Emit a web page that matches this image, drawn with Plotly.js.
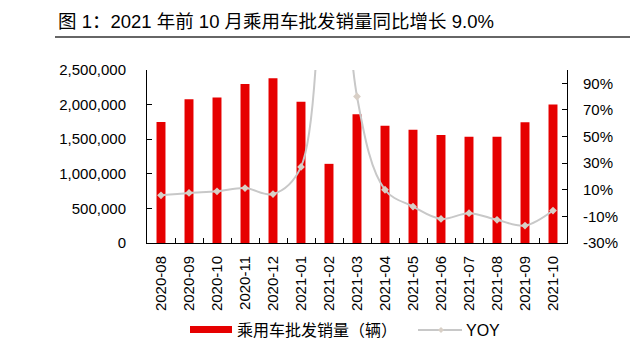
<!DOCTYPE html>
<html>
<head>
<meta charset="utf-8">
<script src="https://cdn.plot.ly/plotly-3.0.1.min.js"></script>
<style>html,body{margin:0;padding:0;background:#fff;}#chart{width:640px;height:360px;}</style>
</head>
<body>
<div id="chart"></div>
<script>
const months = ["2020-08","2020-09","2020-10","2020-11","2020-12","2021-01","2021-02","2021-03","2021-04","2021-05","2021-06","2021-07","2021-08","2021-09","2021-10"];
const sales = [1750000,2078000,2103000,2297000,2379000,2040000,1144000,1860000,1696000,1638000,1560000,1536000,1536000,1744000,2000000];
const yoy = [5.8,7.6,8.8,11.3,6.8,27.2,389,80.1,10.0,-2.6,-11.9,-7.6,-12.6,-16.9,-5.6];
const leftTicks = [0,500000,1000000,1500000,2000000,2500000];
const rightTicks = [-30,-10,10,30,50,70,90];
const rightTickText = rightTicks.map(v => v + "%");
const salesName = "乘用车批发销量（辆）";
const yoyName = "YOY";
const titleText = "图 1：2021 年前 10 月乘用车批发销量同比增长 9.0%";

const font = "Liberation Sans, Arial, Noto Sans CJK SC, sans-serif";
const cjk = "Liberation Sans, Noto Sans CJK SC, sans-serif";

const traces = [
  {type:"bar", x:months, y:sales, name:salesName, marker:{color:"#E60000"}, yaxis:"y", showlegend:false},
  {type:"scatter", mode:"lines+markers", x:months, y:yoy, name:yoyName, yaxis:"y2",
   line:{color:"#C8C8C8", width:2, shape:"spline", smoothing:1},
   marker:{symbol:"diamond", size:6, color:"#D8CFC6"}, showlegend:false, cliponaxis:true}
];

const layout = {
  width:640, height:360,
  margin:{l:147, r:73, t:70, b:117},
  paper_bgcolor:"#fff", plot_bgcolor:"#fff",
  font:{family:font, size:15, color:"#000"},
  bargap:0.68,
  xaxis:{type:"category", showline:true, linecolor:"#000", linewidth:1,
    ticks:"inside", tickson:"boundaries", ticklen:5, tickcolor:"#000",
    tickangle:-90, tickfont:{size:15, family:font, color:"#000"}, ticklabelstandoff:6,
    showgrid:false, zeroline:false, range:[-0.5,14.5]},
  yaxis:{range:[0,2500000], tickvals:leftTicks, tickformat:",d", showline:true, linecolor:"#000",
    ticks:"inside", ticklen:5, tickcolor:"#000", showgrid:false, zeroline:false,
    tickfont:{size:15, family:font, color:"#000"}, ticklabelstandoff:17},
  yaxis2:{overlaying:"y", side:"right", range:[-30,100], tickvals:rightTicks, ticktext:rightTickText,
    showline:true, linecolor:"#000", ticks:"inside", ticklen:5, tickcolor:"#000",
    showgrid:false, zeroline:false, tickfont:{size:15, family:font, color:"#000"}, ticklabelstandoff:12},
  shapes:[
    {type:"line", xref:"paper", yref:"paper", x0:(55-147)/420, x1:(630-147)/420, y0:(360-117-37)/173, y1:(360-117-37)/173, line:{color:"#333", width:1.5}},
    {type:"rect", xref:"paper", yref:"paper", x0:(190-147)/420, x1:(232-147)/420, y0:(360-117-333)/173, y1:(360-117-326)/173, fillcolor:"#E60000", line:{width:0}},
    {type:"line", xref:"paper", yref:"paper", x0:(418-147)/420, x1:(462-147)/420, y0:(360-117-330)/173, y1:(360-117-330)/173, line:{color:"#C8C8C8", width:2}},
    {type:"path", xref:"paper", yref:"paper",
     path:"M "+((441-147)/420)+","+((360-117-327)/173)+" L "+((444-147)/420)+","+((360-117-330)/173)+" L "+((441-147)/420)+","+((360-117-333)/173)+" L "+((438-147)/420)+","+((360-117-330)/173)+" Z",
     fillcolor:"#D8CFC6", line:{width:0}}
  ],
  annotations:[
    {text:titleText, xref:"paper", yref:"paper", x:(56-147)/420, y:(360-117-21)/173, xanchor:"left", yanchor:"middle", showarrow:false, font:{size:18.5, family:cjk, color:"#000"}},
    {text:salesName, xref:"paper", yref:"paper", x:(235-147)/420, y:(360-117-330)/173, xanchor:"left", yanchor:"middle", showarrow:false, font:{size:16, family:cjk, color:"#000"}},
    {text:yoyName, xref:"paper", yref:"paper", x:(464-147)/420, y:(360-117-330)/173, xanchor:"left", yanchor:"middle", showarrow:false, font:{size:16, family:font, color:"#000"}}
  ]
};

Plotly.newPlot("chart", traces, layout, {staticPlot:true, displayModeBar:false});
</script>
</body>
</html>
